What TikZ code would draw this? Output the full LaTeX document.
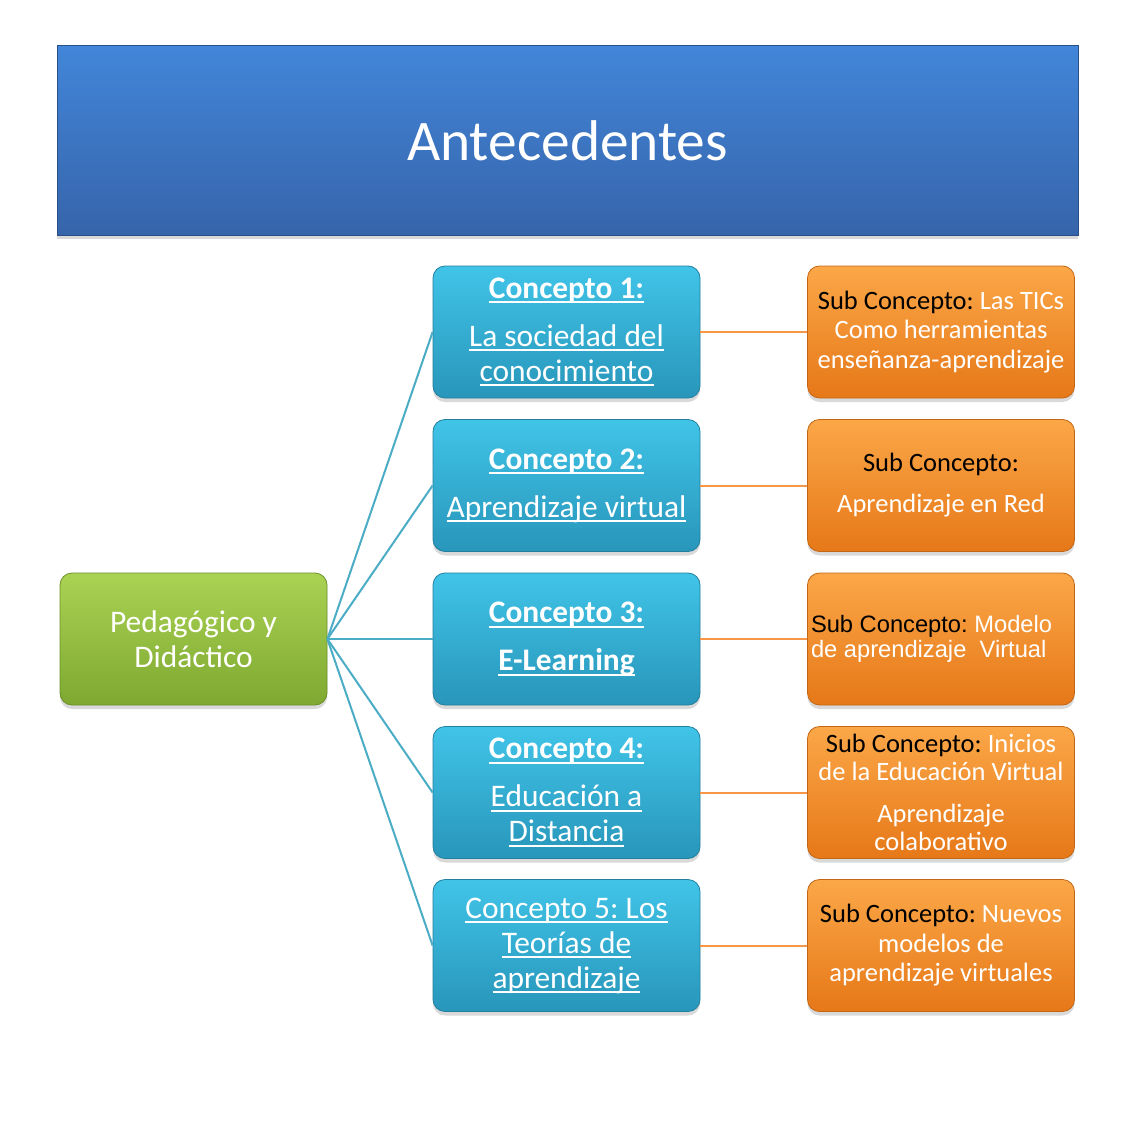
\documentclass[tikz,border=0pt]{standalone}
\usepackage{fontspec}
\setmainfont{Carlito}
\newfontfamily\arialfont{Liberation Sans}
\usetikzlibrary{shadows}
\frenchspacing

\definecolor{titletop}{RGB}{66,134,217}
\definecolor{titlebot}{RGB}{54,100,170}
\definecolor{contop}{RGB}{64,196,232}
\definecolor{conbot}{RGB}{40,150,186}
\definecolor{pedtop}{RGB}{170,211,84}
\definecolor{pedbot}{RGB}{126,168,48}
\definecolor{subtop}{RGB}{251,167,72}
\definecolor{subbot}{RGB}{230,120,24}
\definecolor{bluelink}{RGB}{75,172,198}
\definecolor{orangelink}{RGB}{247,150,70}

\newcommand{\ulink}[1]{\setbox0\hbox{#1}\rlap{\rule[-0.16em]{\wd0}{0.065em}}\box0}
\newcommand{\subhead}{\textcolor{black}{Sub Concepto:}}

\tikzset{
  boxbase/.style={rectangle, rounded corners=6pt, minimum width=133.5pt,
    minimum height=66pt, inner sep=2pt, align=flush center, text=white,
    drop shadow={shadow xshift=0pt, shadow yshift=-2pt, opacity=0.3}},
  titlebox/.style={rectangle, minimum width=510.5pt, minimum height=95pt,
    top color=titletop, bottom color=titlebot, draw=titlebot!80!black,
    line width=0.4pt, text=white, font=\fontsize{28.7}{34}\selectfont,
    drop shadow={shadow xshift=0pt, shadow yshift=-2pt, opacity=0.3}},
  pedbox/.style={boxbase, top color=pedtop, bottom color=pedbot,
    draw=pedbot!85!black, line width=0.4pt,
    font=\fontsize{15.7}{17.5}\selectfont},
  conbox/.style={boxbase, top color=contop, bottom color=conbot,
    draw=conbot!85!black, line width=0.4pt,
    font=\fontsize{15.7}{17.5}\selectfont},
  subbox/.style={boxbase, top color=subtop, bottom color=subbot,
    draw=subbot!85!black, line width=0.4pt,
    font=\fontsize{13.25}{14.75}\selectfont},
  bluelinea/.style={draw=bluelink, line width=1pt},
  orangelinea/.style={draw=orangelink, line width=1pt}
}

\begin{document}
\begin{tikzpicture}[x=0.5pt, y=-0.5pt]
  \useasboundingbox (0,0) rectangle (1134,1134);

  \node[titlebox] (titulo) at (567.5,140.5) {Antecedentes};

  \node[pedbox] (ped) at (193.5,639) {Pedagógico y\\Didáctico};

  \node[conbox] (c1) at (566.5,332) {\textbf{\ulink{Concepto 1:}}\\[6.5pt]\ulink{La sociedad del}\\\ulink{conocimiento}};
  \node[conbox] (c2) at (566.5,485.5) {\textbf{\ulink{Concepto 2:}}\\[6.5pt]\ulink{Aprendizaje virtual}};
  \node[conbox] (c3) at (566.5,639) {\textbf{\ulink{Concepto 3:}}\\[6.5pt]\textbf{\ulink{E-Learning}}};
  \node[conbox] (c4) at (566.5,792.5) {\textbf{\ulink{Concepto 4:}}\\[6.5pt]\ulink{Educación a}\\\ulink{Distancia}};
  \node[conbox] (c5) at (566.5,945.5) {\ulink{Concepto 5: Los}\\\ulink{Teorías de}\\\ulink{aprendizaje}};

  \node[subbox] (s1) at (941,332) {\subhead{} Las TICs\\Como herramientas\\enseñanza-aprendizaje};
  \node[subbox] (s2) at (941,485.5) {\subhead\\[5.75pt]Aprendizaje en Red};
  \node[subbox, text width=130pt, inner xsep=1.5pt, align=flush left,
    font=\arialfont\fontsize{11.85}{12.5}\selectfont] (s3) at (941,639)
    {\subhead{} Modelo\\de aprendizaje\ \ Virtual};
  \node[subbox, font=\fontsize{13.25}{14}\selectfont] (s4) at (941,792.5)
    {\subhead{} Inicios\\de la Educación Virtual\\[7pt]Aprendizaje\\colaborativo};
  \node[subbox] (s5) at (941,945.5) {\subhead{} Nuevos\\modelos de\\aprendizaje virtuales};

  \foreach \i in {1,...,5} {
    \draw[bluelinea] (ped.east) -- (c\i.west);
    \draw[orangelinea] (c\i.east) -- (s\i.west);
  }
\end{tikzpicture}
\end{document}
